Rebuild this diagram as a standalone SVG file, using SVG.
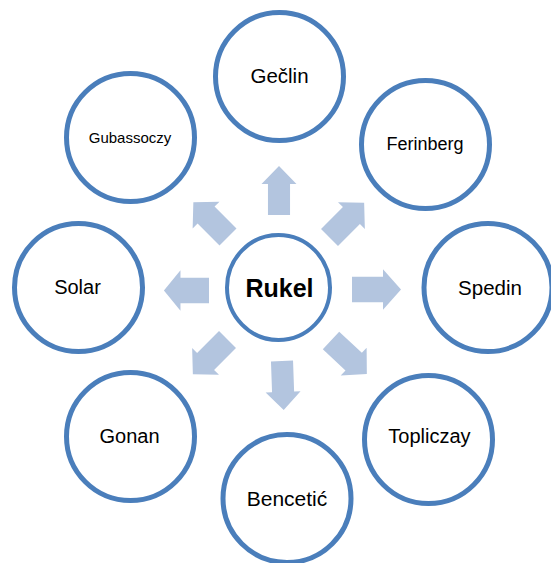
<svg xmlns="http://www.w3.org/2000/svg" width="551" height="563" viewBox="0 0 551 563">
<style>
.node{fill:#ffffff;stroke:#4a7ebb;stroke-width:5}
.center{fill:#ffffff;stroke:#4a7ebb;stroke-width:4}
.lbl{font-family:"Liberation Sans",Arial,sans-serif;fill:#000;text-anchor:middle}
.arrow{fill:#b3c5df}
</style>
<defs>
<path id="arr" d="M0,-12 H31 V-19 L49,0 L31,19 V12 H0 Z"/>
</defs>
<rect width="551" height="563" fill="#ffffff"/>
<g id="connectors">
<use href="#arr" class="arrow" transform="translate(352,289.5) scale(1,1.07)"/>
<use href="#arr" class="arrow" transform="translate(209,290.5) rotate(180) scale(0.92,1.07)"/>
<use href="#arr" class="arrow" transform="translate(279,215) rotate(-90) scale(1,0.92)"/>
<use href="#arr" class="arrow" transform="translate(282,361) rotate(88) scale(1,0.92)"/>
<use href="#arr" class="arrow" transform="translate(228,237) rotate(-135)"/>
<use href="#arr" class="arrow" transform="translate(329.5,237.5) rotate(-45)"/>
<use href="#arr" class="arrow" transform="translate(227.5,339.5) rotate(135)"/>
<use href="#arr" class="arrow" transform="translate(331,340.5) rotate(43)"/>
</g>
<g id="rukel">
<ellipse class="center" cx="278.5" cy="287.5" rx="51.5" ry="52.5"/>
<text class="lbl" x="279.5" y="297" font-size="25" font-weight="bold">Rukel</text>
</g>
<g id="geclin">
<circle class="node" cx="279.5" cy="76.5" r="64"/>
<text class="lbl" x="279.5" y="83" font-size="20.5">Gečlin</text>
</g>
<g id="gubassoczy">
<circle class="node" cx="130.5" cy="137.5" r="64"/>
<text class="lbl" x="130" y="143" font-size="15">Gubassoczy</text>
</g>
<g id="ferinberg">
<circle class="node" cx="425.5" cy="144.5" r="64"/>
<text class="lbl" x="425" y="150" font-size="18">Ferinberg</text>
</g>
<g id="solar">
<circle class="node" cx="78.5" cy="287.5" r="64"/>
<text class="lbl" x="77.5" y="294" font-size="20">Solar</text>
</g>
<g id="spedin">
<circle class="node" cx="488" cy="287.5" r="64"/>
<text class="lbl" x="490" y="295" font-size="20.5">Spedin</text>
</g>
<g id="gonan">
<circle class="node" cx="130.5" cy="436.5" r="64"/>
<text class="lbl" x="129.5" y="443" font-size="20">Gonan</text>
</g>
<g id="topliczay">
<circle class="node" cx="428.5" cy="439.5" r="64"/>
<text class="lbl" x="429.5" y="443" font-size="20">Topliczay</text>
</g>
<g id="bencetic">
<circle class="node" cx="287" cy="498.5" r="64"/>
<text class="lbl" x="287" y="506" font-size="21">Bencetić</text>
</g>
</svg>
